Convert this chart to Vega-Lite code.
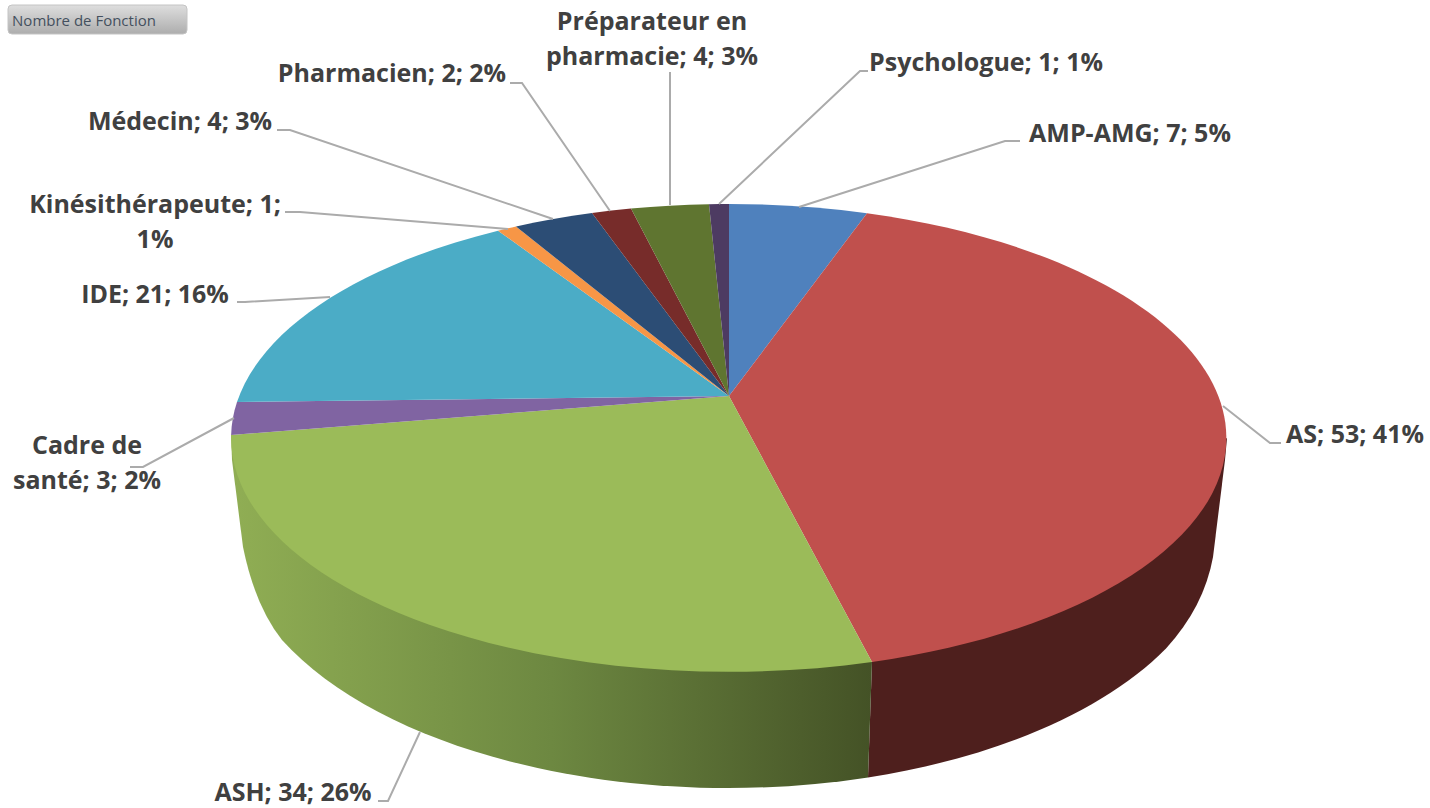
{"$schema":"https://vega.github.io/schema/vega-lite/v6.json","width":1430,"height":808,"padding":0,"autosize":{"type":"fit","contains":"padding"},"background":"white","view":{"stroke":null},
"data":{"values":[
{"ordre":1,"fonction":"AMP-AMG","nombre":7,"part":"5%","libelle":"AMP-AMG; 7; 5%"},
{"ordre":2,"fonction":"AS","nombre":53,"part":"41%","libelle":"AS; 53; 41%"},
{"ordre":3,"fonction":"ASH","nombre":34,"part":"26%","libelle":"ASH; 34; 26%"},
{"ordre":4,"fonction":"Cadre de santé","nombre":3,"part":"2%","libelle":"Cadre de\nsanté; 3; 2%"},
{"ordre":5,"fonction":"IDE","nombre":21,"part":"16%","libelle":"IDE; 21; 16%"},
{"ordre":6,"fonction":"Kinésithérapeute","nombre":1,"part":"1%","libelle":"Kinésithérapeute; 1;\n1%"},
{"ordre":7,"fonction":"Médecin","nombre":4,"part":"3%","libelle":"Médecin; 4; 3%"},
{"ordre":8,"fonction":"Pharmacien","nombre":2,"part":"2%","libelle":"Pharmacien; 2; 2%"},
{"ordre":9,"fonction":"Préparateur en pharmacie","nombre":4,"part":"3%","libelle":"Préparateur en\npharmacie; 4; 3%"},
{"ordre":10,"fonction":"Psychologue","nombre":1,"part":"1%","libelle":"Psychologue; 1; 1%"}
]},
"resolve":{"scale":{"shape":"independent"}},
"layer":[
{"transform":[{"filter":"datum.fonction==='AS'"}],"mark":{"type":"point","filled":true,"size":4,"opacity":1,"stroke":null,"fill":"#4e1f1d","shape":"M157 258 L153 373.4 A493 258 0 0 0 451 244.4 Q489 203 498 153 L510 56 L512 34 Z"},"encoding":{}},
{"transform":[{"filter":"datum.fonction==='ASH'"}],"mark":{"type":"point","filled":true,"size":4,"opacity":1,"stroke":null,"fill":{"gradient":"linear","x1":0,"y1":0,"x2":1,"y2":0,"stops":[{"offset":0,"color":"#90ae54"},{"offset":0.5,"color":"#6d8841"},{"offset":1,"color":"#445226"}]},"shape":"M157 258 L153 373.4 A493 258 0 0 1 -433 235.9 Q-460 202 -472 143 L-483 56 L-483.9 31 Z"},"encoding":{}},
{"mark":{"type":"point","filled":true,"size":4,"opacity":1,"stroke":null},
"encoding":{
"shape":{"field":"fonction","type":"nominal","legend":null,"scale":{"domain":["AMP-AMG","AS","ASH","Cadre de santé","IDE","Kinésithérapeute","Médecin","Pharmacien","Préparateur en pharmacie","Psychologue"],"range":[
"M14 -8 L14 -200 A498 234 0 0 1 152 -190.8 Z",
"M14 -8 L152 -190.8 A498 234 0 0 1 157 258 Z",
"M14 -8 L157 258 A498 234 0 0 1 -483.9 31 Z",
"M14 -8 L-483.9 31 A498 234 0 0 1 -478 -2 Z",
"M14 -8 L-478 -2 A498 234 0 0 1 -217 -173.3 Z",
"M14 -8 L-217 -173.3 A498 234 0 0 1 -199 -177.5 Z",
"M14 -8 L-199 -177.5 A498 234 0 0 1 -123 -191 Z",
"M14 -8 L-123 -191 A498 234 0 0 1 -84 -195.4 Z",
"M14 -8 L-84 -195.4 A498 234 0 0 1 -6 -199.8 Z",
"M14 -8 L-6 -199.8 A498 234 0 0 1 14 -200 Z"]}},
"color":{"field":"fonction","type":"nominal","legend":null,"scale":{"domain":["AMP-AMG","AS","ASH","Cadre de santé","IDE","Kinésithérapeute","Médecin","Pharmacien","Préparateur en pharmacie","Psychologue"],"range":["#4f81bd","#c0504d","#9bbb59","#8064a2","#4bacc6","#f79646","#2c4d75","#772c2a","#5f7530","#4d3b62"]}}
}},
{"mark":{"type":"point","filled":false,"size":4,"opacity":1,"fill":null,"stroke":"#ababab","strokeWidth":2},
"encoding":{
"shape":{"field":"fonction","type":"nominal","legend":null,"scale":{"domain":["AMP-AMG","AS","ASH","Cadre de santé","IDE","Kinésithérapeute","Médecin","Pharmacien","Préparateur en pharmacie","Psychologue"],"range":[
"M305 -263 L290 -263 L84 -197",
"M566 39 L555 39 L508 2",
"M-337 397 L-327 397 L-295 328",
"M-585 63 L-572 63 L-481 14",
"M-478 -102 L-470 -102 L-385 -107",
"M-430 -192 L-415 -192 L-207 -175",
"M-438 -274 L-425 -274 L-162 -185",
"M-205 -321 L-193 -321 L-105 -193",
"M-45 -332 L-45 -199",
"M153 -333 L145 -333 L4 -200"]}}
}},
{"mark":{"type":"text","font":"Open Sans","fontWeight":"bold","fontSize":25,"color":"#404040","lineBreak":"\n","lineHeight":35,"align":"center","baseline":"middle"},
"encoding":{
"text":{"field":"libelle"},
"x":{"field":"ordre","type":"quantitative","axis":null,"scale":{"zero":false,"nice":false,"domain":[0,1,2,3,4,5,6,7,8,9,10],"range":[84,1130,1355,293,87,155,155,180,392,652,986]}},
"y":{"field":"ordre","type":"quantitative","axis":null,"scale":{"zero":false,"nice":false,"domain":[0,1,2,3,4,5,6,7,8,9,10],"range":[21,134,435,793,446,295,205,122,74,22,63]}}
}},
{"data":{"values":[{"ordre":0,"libelle":"Nombre de Fonction"}]},"layer":[
{"mark":{"type":"point","filled":true,"size":4,"opacity":1,"strokeWidth":1,"stroke":"#c4c4c4","fill":{"gradient":"linear","x1":0,"y1":0,"x2":0,"y2":1,"stops":[{"offset":0,"color":"#dedede"},{"offset":1,"color":"#adadad"}]},"shape":"M-703 -399 L-532 -399 Q-528 -399 -528 -395 L-528 -374 Q-528 -370 -532 -370 L-703 -370 Q-707 -370 -707 -374 L-707 -395 Q-707 -399 -703 -399 Z"},"encoding":{}},
{"mark":{"type":"text","font":"Open Sans","fontSize":15,"color":"#44505e","align":"center","baseline":"middle"},
"encoding":{"text":{"field":"libelle"},
"x":{"field":"ordre","type":"quantitative","axis":null,"scale":{"zero":false,"nice":false,"domain":[0,1,2,3,4,5,6,7,8,9,10],"range":[84,1130,1355,293,87,155,155,180,392,652,986]}},
"y":{"field":"ordre","type":"quantitative","axis":null,"scale":{"zero":false,"nice":false,"domain":[0,1,2,3,4,5,6,7,8,9,10],"range":[21,134,435,793,446,295,205,122,74,22,63]}}}}
]}
]}
